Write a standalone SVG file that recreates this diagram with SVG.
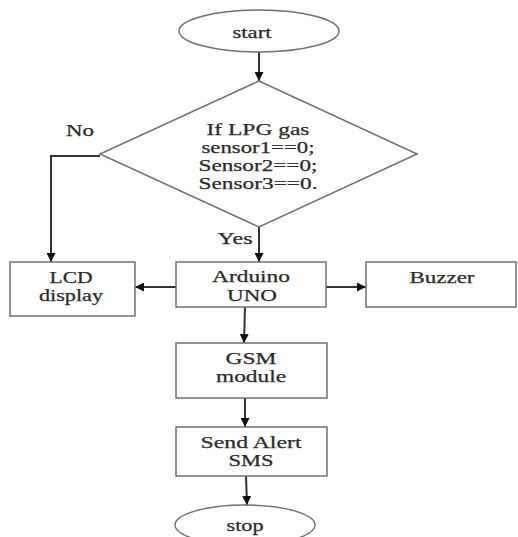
<svg xmlns="http://www.w3.org/2000/svg" width="518" height="537" viewBox="0 0 518 537">
<style>
.shape{fill:#fff;stroke:#707070;stroke-width:1.5}
.conn{fill:none;stroke:#333;stroke-width:2;marker-end:url(#ah)}
text{font-family:"Liberation Serif","Times New Roman",serif;font-size:17px;fill:#2a2a2a;text-anchor:middle;stroke:#2a2a2a;stroke-width:0.25}
</style>
<defs>
<marker id="ah" viewBox="0 0 10 10" refX="10" refY="5" markerWidth="9" markerHeight="9" orient="auto" markerUnits="userSpaceOnUse">
<path d="M0,0 L10,5 L0,10 z" fill="#111"/>
</marker>
</defs>
<rect width="518" height="537" fill="#fff"/>
<g id="connectors">
<path class="conn" d="M259,52 V81"/>
<path class="conn" d="M100,156 H51 V262"/>
<path class="conn" d="M259,227 V262"/>
<path class="conn" d="M176,287 H135"/>
<path class="conn" d="M326,287 H366"/>
<path class="conn" d="M245,307 L244,343"/>
<path class="conn" d="M245,398 V427"/>
<path class="conn" d="M246,476 L247,505"/>
<text x="80" y="136" textLength="28" lengthAdjust="spacingAndGlyphs">No</text>
<text x="235" y="244" textLength="35" lengthAdjust="spacingAndGlyphs">Yes</text>
</g>
<g id="start">
<ellipse class="shape" cx="259" cy="31" rx="80" ry="21"/>
<text x="252" y="38" textLength="39" lengthAdjust="spacingAndGlyphs">start</text>
</g>
<g id="decision">
<polygon class="shape" points="259,81 417,154 259,227 100,154"/>
<text x="258" y="135" textLength="103" lengthAdjust="spacingAndGlyphs">If LPG gas</text>
<text x="258" y="153" textLength="113" lengthAdjust="spacingAndGlyphs">sensor1==0;</text>
<text x="258" y="171" textLength="119" lengthAdjust="spacingAndGlyphs">Sensor2==0;</text>
<text x="258" y="189" textLength="119" lengthAdjust="spacingAndGlyphs">Sensor3==0.</text>
</g>
<g id="lcd">
<rect class="shape" x="10" y="262" width="125" height="54"/>
<text x="71" y="283" textLength="43" lengthAdjust="spacingAndGlyphs">LCD</text>
<text x="71" y="301" textLength="64" lengthAdjust="spacingAndGlyphs">display</text>
</g>
<g id="arduino">
<rect class="shape" x="176" y="262" width="150" height="45"/>
<text x="251" y="282" textLength="78" lengthAdjust="spacingAndGlyphs">Arduino</text>
<text x="252" y="301" textLength="50" lengthAdjust="spacingAndGlyphs">UNO</text>
</g>
<g id="buzzer">
<rect class="shape" x="366" y="262" width="150" height="45"/>
<text x="442" y="283" textLength="65" lengthAdjust="spacingAndGlyphs">Buzzer</text>
</g>
<g id="gsm">
<rect class="shape" x="176" y="343" width="151" height="55"/>
<text x="251" y="364" textLength="51" lengthAdjust="spacingAndGlyphs">GSM</text>
<text x="251" y="382" textLength="70" lengthAdjust="spacingAndGlyphs">module</text>
</g>
<g id="sms">
<rect class="shape" x="176" y="427" width="151" height="49"/>
<text x="251" y="448" textLength="101" lengthAdjust="spacingAndGlyphs">Send Alert</text>
<text x="251" y="466" textLength="45" lengthAdjust="spacingAndGlyphs">SMS</text>
</g>
<g id="stop">
<ellipse class="shape" cx="245" cy="525" rx="70" ry="20"/>
<text x="245" y="531" textLength="37" lengthAdjust="spacingAndGlyphs">stop</text>
</g>
</svg>
